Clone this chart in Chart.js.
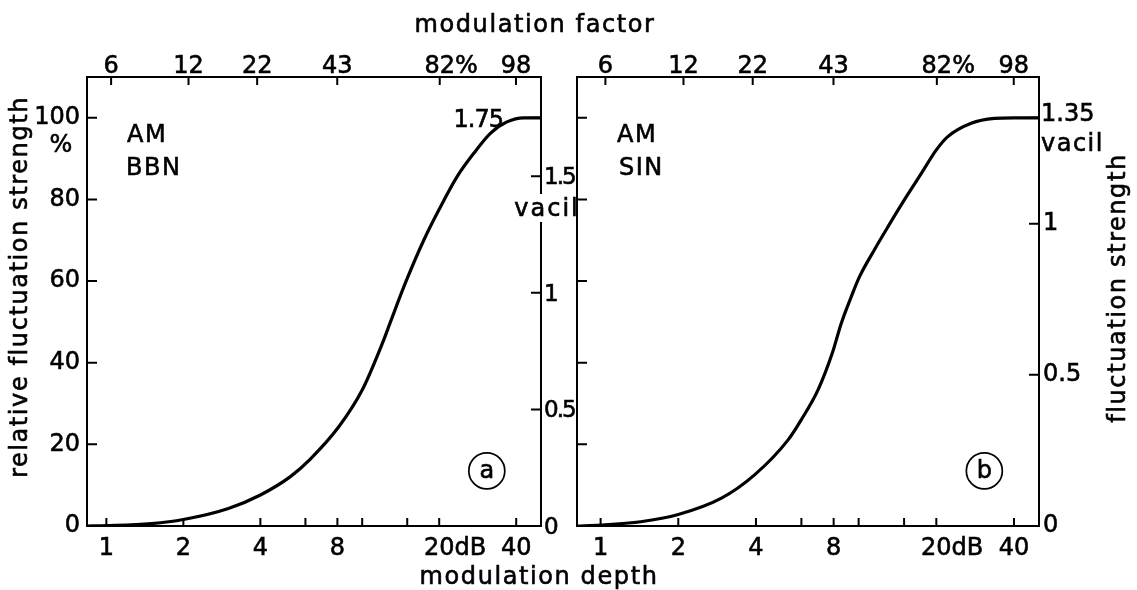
<!DOCTYPE html>
<html>
<head>
<meta charset="utf-8">
<title>Fluctuation strength vs modulation depth</title>
<script src="https://cdn.jsdelivr.net/npm/chart.js@4/dist/chart.umd.min.js"></script>
<style>
	html, body { margin: 0; padding: 0; background: #fff; }
	#page { position: relative; width: 1137px; height: 590px; overflow: hidden; }
	#page canvas { position: absolute; left: 0; top: 0; }
</style>
</head>
<body>
<div id="page">
	<canvas id="chart-a" width="1137" height="590"></canvas>
	<canvas id="chart-b" width="1137" height="590"></canvas>
</div>
<script>
"use strict";

const FONT = '"DejaVu Sans", "Liberation Sans", sans-serif';
const BOLDEN = 0.6; // the scanned lettering is a bit heavier than DejaVu Book

// bottom axis: modulation depth in dB
const depthTicks = [1, 2, 4, 8, 20, 40];
const depthLabels = ["1", "2", "4", "8", "20", "40"];
const depthUnit = "dB"; // printed after the 20
const depthMinorTicks = [6, 10, 15];

// top axis: modulation factor in %
const factorTicks = [6, 12, 22, 43, 82, 98];
const factorLabels = ["6", "12", "22", "43", "82", "98"];
const factorUnit = "%"; // printed after the 82

// vertical axes
const pctTicks = [0, 20, 40, 60, 80, 100];
const vacilTicksA = [0, 0.5, 1, 1.5, 1.75];
const vacilTicksB = [0, 0.5, 1, 1.35];

// (a) AM BBN: relative fluctuation strength in %
const bbnDepth = [0.84, 1, 1.5, 2, 3, 4, 5.24, 6.27, 8.1, 10, 12, 12.9, 14.7, 17.4, 20, 23.5, 27.3, 31.7, 36.8, 42.8, 50];
const bbnRel = [0, 0.1, 0.6, 1.6, 4.3, 7.6, 12.1, 16.4, 24.3, 33.3, 44.8, 50, 59.3, 70, 77.6, 85.6, 91.3, 96.2, 99, 100, 100];

// (b) AM SIN: fluctuation strength in vacil
const sinDepth = [0.81, 1, 1.43, 2, 2.94, 3.95, 5.32, 5.99, 6.96, 7.9, 8.56, 9.36, 10.07, 11.5, 13, 14.95, 17.5, 19.97, 22.1, 27.3, 33.6, 40, 50];
const sinVacil = [0, 0.003, 0.014, 0.038, 0.092, 0.169, 0.284, 0.351, 0.45, 0.571, 0.67, 0.758, 0.824, 0.913, 0.99, 1.075, 1.166, 1.243, 1.287, 1.332, 1.348, 1.35, 1.35];

// level difference of an AM signal with factor m
function factorToDb(pct) {
	const m = pct / 100;
	return 20 * Math.log10((1 + m) / (1 - m));
}

function fixSize(key, size) {
	return scale => { scale[key] = size; };
}

function logAxis(position, min, max, size) {
	return {
		type: "logarithmic",
		position: position,
		min: min,
		max: max,
		afterFit: fixSize("height", size),
		afterBuildTicks: scale => { scale.ticks = depthTicks.map(v => ({ value: v })); },
		ticks: { display: false },
		grid: { drawOnChartArea: false, drawTicks: false },
		border: { color: "#000", width: 2 },
	};
}

function linAxis(position, max, ticks, width, showLabels, hidden) {
	return {
		type: "linear",
		position: position,
		min: 0,
		max: max,
		afterFit: fixSize("width", width),
		afterBuildTicks: scale => { scale.ticks = ticks.map(v => ({ value: v })); },
		ticks: {
			display: showLabels,
			padding: position === "left" ? 7 : 4,
			color: "#000",
			textStrokeColor: "#000",
			textStrokeWidth: BOLDEN,
			font: { family: FONT, size: 24 },
			callback: value => (value === hidden ? "" : String(value)),
		},
		grid: { drawOnChartArea: false, drawTicks: false },
		border: { color: "#000", width: 2 },
	};
}

function write(ctx, str, x, y, align, spacing) {
	ctx.textAlign = align;
	ctx.letterSpacing = spacing || "0px";
	ctx.lineWidth = BOLDEN;
	ctx.fillText(str, x, y);
	ctx.strokeText(str, x, y);
}

function writeUp(ctx, str, x, y) {
	ctx.save();
	ctx.translate(x, y);
	ctx.rotate(-Math.PI / 2);
	write(ctx, str, 0, 0, "center", "1.6px");
	ctx.restore();
}

function circled(ctx, str, cx, cy) {
	ctx.beginPath();
	ctx.lineWidth = 1.7;
	ctx.arc(cx, cy, 18, 0, 2 * Math.PI);
	ctx.stroke();
	write(ctx, str, cx, cy + 7, "center");
}

// inward tick marks and the x tick labels (number centred on the tick, unit trailing)
const axisMarks = {
	id: "axisMarks",
	afterDraw(chart, args, opts) {
		const ctx = chart.ctx;
		const area = chart.chartArea;
		const { x, x2, y, y2 } = chart.scales;
		ctx.save();
		ctx.strokeStyle = "#000";
		ctx.lineWidth = 2;
		ctx.beginPath();
		for (const v of depthTicks.concat(depthMinorTicks)) {
			const px = x.getPixelForValue(v);
			ctx.moveTo(px, area.bottom);
			ctx.lineTo(px, area.bottom - 8);
		}
		for (const f of factorTicks) {
			const px = x2.getPixelForValue(factorToDb(f));
			ctx.moveTo(px, area.top);
			ctx.lineTo(px, area.top + 8);
		}
		for (const v of pctTicks.slice(1)) {
			const py = y.getPixelForValue(v);
			ctx.moveTo(area.left, py);
			ctx.lineTo(area.left + 10, py);
		}
		for (const v of opts.vacilTicks.slice(1)) {
			const py = y2.getPixelForValue(v);
			ctx.moveTo(area.right, py);
			ctx.lineTo(area.right - 10, py);
		}
		ctx.stroke();

		ctx.fillStyle = "#000";
		ctx.font = `24px ${FONT}`;
		depthTicks.forEach((v, i) => {
			const label = depthLabels[i];
			const px = x.getPixelForValue(v) - ctx.measureText(label).width / 2;
			write(ctx, v === 20 ? label + depthUnit : label, px, area.bottom + 29, "left");
		});
		factorTicks.forEach((f, i) => {
			const label = factorLabels[i];
			const px = x2.getPixelForValue(factorToDb(f)) - ctx.measureText(label).width / 2;
			write(ctx, f === 82 ? label + factorUnit : label, px, area.top - 4, "left");
		});
		ctx.restore();
	},
};

const textA = {
	id: "textA",
	afterDraw(chart) {
		const ctx = chart.ctx;
		const area = chart.chartArea;
		const { x, y, y2 } = chart.scales;
		const top = y.getPixelForValue(100);
		ctx.save();
		ctx.fillStyle = "#000";
		ctx.strokeStyle = "#000";
		ctx.font = `24px ${FONT}`;

		write(ctx, "modulation factor", 535, 32, "center", "1.6px");
		write(ctx, "modulation depth", 539, 584, "center", "1.6px");
		writeUp(ctx, "relative fluctuation strength", 27, 287);

		write(ctx, "%", area.left - 26, top + 34, "center");
		write(ctx, "AM", area.left + 40, area.top + 65, "left", "1.5px");
		write(ctx, "BBN", area.left + 39, area.top + 98, "left", "1.5px");
		write(ctx, "1.75", area.right - 38, top + 9, "right", "-1px");

		// the gap between the panels is narrow, so these labels are set tight
		ctx.font = `23px ${FONT}`;
		for (const v of vacilTicksA.slice(0, 4)) {
			write(ctx, String(v), area.right + 3, y2.getPixelForValue(v) + 8, "left", "-2px");
		}

		// the unit breaks the right axis line
		ctx.font = `24px ${FONT}`;
		ctx.fillStyle = "#fff";
		ctx.fillRect(area.right - 22, 194, 56, 28);
		ctx.fillStyle = "#000";
		write(ctx, "vacil", area.right + 6, 216, "center", "2px");

		circled(ctx, "a", x.getPixelForValue(30.7), y.getPixelForValue(13.5));
		ctx.restore();
	},
};

const textB = {
	id: "textB",
	afterDraw(chart) {
		const ctx = chart.ctx;
		const area = chart.chartArea;
		const { x, y, y2 } = chart.scales;
		const top = y2.getPixelForValue(1.35);
		ctx.save();
		ctx.fillStyle = "#000";
		ctx.strokeStyle = "#000";
		ctx.font = `24px ${FONT}`;

		write(ctx, "AM", area.left + 40, area.top + 65, "left", "1.5px");
		write(ctx, "SIN", area.left + 42, area.top + 98, "left", "1.5px");
		write(ctx, "1.35", area.right + 2, top + 3, "left");
		write(ctx, "vacil", area.right + 2, top + 33, "left", "1.5px");
		writeUp(ctx, "fluctuation strength", 1125, 288);

		circled(ctx, "b", x.getPixelForValue(30.7), y.getPixelForValue(13.5));
		ctx.restore();
	},
};

function curve(xs, ys, yAxisID) {
	return {
		data: xs.map((v, i) => ({ x: v, y: ys[i] })),
		yAxisID: yAxisID,
		borderColor: "#000",
		borderWidth: 3.2,
		pointRadius: 0,
		fill: false,
		cubicInterpolationMode: "monotone",
	};
}

Chart.defaults.font.family = FONT;
Chart.defaults.color = "#000";

const chartA = new Chart(document.getElementById("chart-a"), {
	type: "line",
	data: { datasets: [curve(bbnDepth, bbnRel, "y")] },
	options: {
		responsive: false,
		animation: false,
		devicePixelRatio: 1,
		events: [],
		layout: { padding: { left: 0, right: 560, top: 0, bottom: 0 } },
		plugins: {
			legend: { display: false },
			tooltip: { enabled: false },
			axisMarks: { vacilTicks: vacilTicksA },
		},
		scales: {
			x: logAxis("bottom", 0.84, 50, 64),
			x2: logAxis("top", 0.84, 50, 77),
			y: linAxis("left", 110, pctTicks, 87, true),
			y2: linAxis("right", 1.75 * 1.1, vacilTicksA, 36, false),
		},
	},
	plugins: [axisMarks, textA],
});

const chartB = new Chart(document.getElementById("chart-b"), {
	type: "line",
	data: { datasets: [curve(sinDepth, sinVacil, "y2")] },
	options: {
		responsive: false,
		animation: false,
		devicePixelRatio: 1,
		events: [],
		layout: { padding: { left: 570, right: 0, top: 0, bottom: 0 } },
		plugins: {
			legend: { display: false },
			tooltip: { enabled: false },
			axisMarks: { vacilTicks: vacilTicksB },
		},
		scales: {
			x: logAxis("bottom", 0.81, 50, 64),
			x2: logAxis("top", 0.81, 50, 77),
			y: linAxis("left", 110, pctTicks, 7, false),
			y2: linAxis("right", 1.35 * 1.1, vacilTicksB, 98, true, 1.35),
		},
	},
	plugins: [axisMarks, textB],
});
</script>
</body>
</html>
